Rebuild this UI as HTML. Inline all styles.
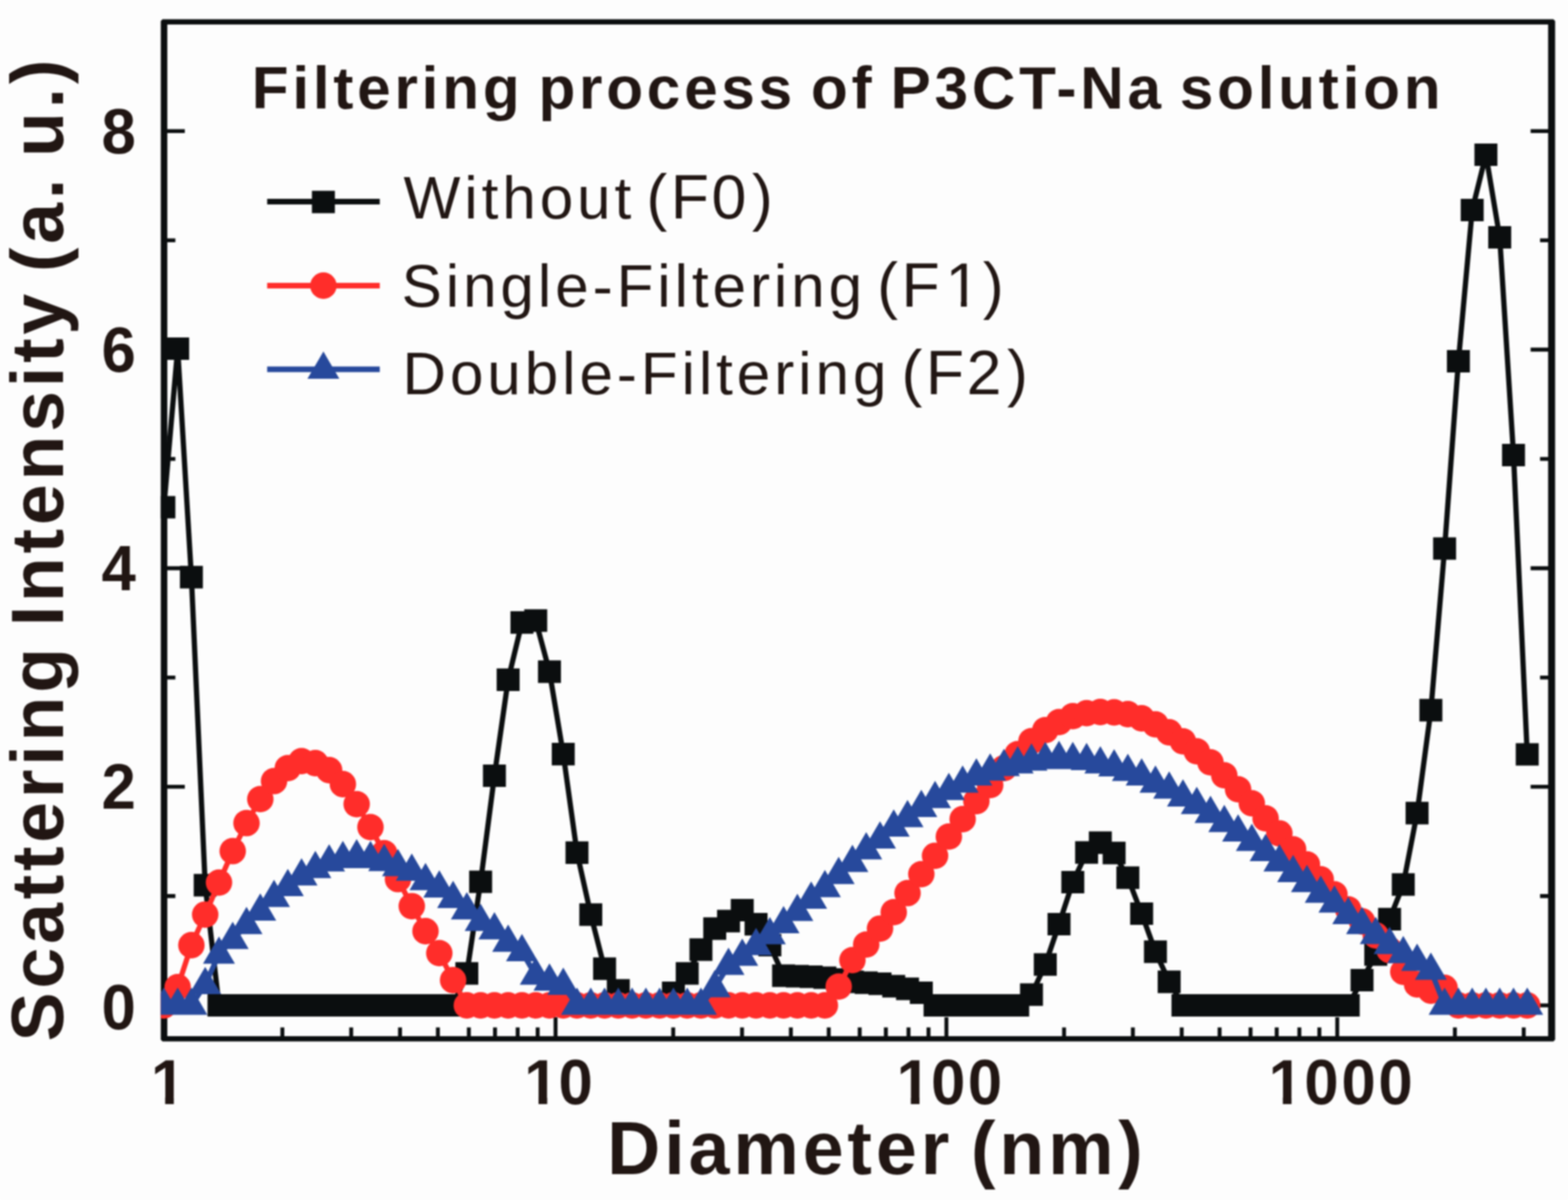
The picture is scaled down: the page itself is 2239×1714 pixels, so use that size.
<!DOCTYPE html>
<html lang="en"><head><meta charset="utf-8"><title>Filtering process of P3CT-Na solution</title>
<style>
html,body{margin:0;padding:0;background:#fdfdfd;}
body{width:2239px;height:1714px;overflow:hidden;}
svg{display:block;filter:blur(0.9px);}
text{font-family:"Liberation Sans",Arial,Helvetica,sans-serif;fill:#211613;}
.b{font-weight:bold;}
</style></head><body>
<svg width="2239" height="1714" viewBox="0 0 2239 1714">
<rect width="2239" height="1714" fill="#fdfdfd"/>
<defs><clipPath id="plotclip"><rect x="229.6" y="27.4" width="1991" height="1460.2"/></clipPath></defs>
<g id="axes">
<path fill="#0b0e0f" fill-rule="evenodd" d="M232.1 27.4H2218.1L2220.6 29.9V1485.1L2218.1 1487.6H232.1L229.6 1485.1V29.9Z M238.9 35H2210.6V1480H238.9Z"/>
<path stroke="#0b0e0f" fill="none" stroke-width="5.6" d="M237.9 1436h26M2211.6 1436h-26M237.9 1279.9h12.5M2211.6 1279.9h-12.5M237.9 1123.8h26M2211.6 1123.8h-26M237.9 967.7h12.5M2211.6 967.7h-12.5M237.9 811.6h26M2211.6 811.6h-26M237.9 655.5h12.5M2211.6 655.5h-12.5M237.9 499.4h26M2211.6 499.4h-26M237.9 343.3h12.5M2211.6 343.3h-12.5M237.9 187.2h26M2211.6 187.2h-26M403.205 1481v-13.5M501.481 1481v-13.5M571.21 1481v-13.5M625.295 1481v-13.5M669.486 1481v-13.5M706.849 1481v-13.5M739.215 1481v-13.5M767.763 1481v-13.5M793.3 1481v-28M961.305 1481v-13.5M1059.58 1481v-13.5M1129.31 1481v-13.5M1183.4 1481v-13.5M1227.59 1481v-13.5M1264.95 1481v-13.5M1297.31 1481v-13.5M1325.86 1481v-13.5M1351.4 1481v-28M1519.4 1481v-13.5M1617.68 1481v-13.5M1687.41 1481v-13.5M1741.5 1481v-13.5M1785.69 1481v-13.5M1823.05 1481v-13.5M1855.41 1481v-13.5M1883.96 1481v-13.5M1909.5 1481v-28M2077.5 1481v-13.5M2175.78 1481v-13.5"/>
</g>
<g id="plot" clip-path="url(#plotclip)">
<g id="series-f0"><polyline fill="none" stroke="#0b0e0f" stroke-width="7.5" stroke-linejoin="round" points="234,724.5 253.7,498 273.3,824.3 293,1264.3 312.7,1436 332.3,1436 352,1436 371.7,1436 391.3,1436 411,1436 430.6,1436 450.3,1436 470,1436 489.6,1436 509.3,1436 529,1436 548.6,1436 568.3,1436 588,1436 607.6,1436 627.3,1436 647,1436 666.6,1390.4 686.3,1259.5 706,1108 725.6,970.9 745.3,889.1 765,886.3 784.6,959.4 804.3,1077.1 823.9,1217.8 843.6,1306.3 863.3,1383.7 882.9,1414.5 902.6,1436 922.3,1436 941.9,1436 961.6,1418 981.3,1390.3 1000.9,1356.4 1020.6,1326.3 1040.3,1315.6 1059.9,1300 1079.6,1320.1 1099.3,1350 1118.9,1393.6 1138.6,1394.3 1158.3,1395.2 1177.9,1396.5 1197.6,1399 1217.2,1402.3 1236.9,1403.7 1256.6,1405.1 1276.2,1408.6 1295.9,1412.3 1315.6,1418 1335.2,1436 1354.9,1436 1374.6,1436 1394.2,1436 1413.9,1436 1433.6,1436 1453.2,1436 1472.9,1420.7 1492.6,1377.7 1512.2,1320 1531.9,1260 1551.6,1217.7 1571.2,1203.7 1590.9,1218.3 1610.5,1253.7 1630.2,1305 1649.9,1359.4 1669.5,1402.3 1689.2,1436 1708.9,1436 1728.5,1436 1748.2,1436 1767.9,1436 1787.5,1436 1807.2,1436 1826.9,1436 1846.5,1436 1866.2,1436 1885.9,1436 1905.5,1436 1925.2,1436 1944.9,1400 1964.5,1363.4 1984.2,1312.9 2003.8,1263.4 2023.5,1161.4 2043.2,1014.4 2062.8,783.5 2082.5,516 2102.2,300 2121.8,221 2141.5,339 2161.2,650 2180.8,1077.5"/><path fill="#0b0e0f" d="M217.6 708.4h32.8v32.2h-32.8zM237.3 481.9h32.8v32.2h-32.8zM256.9 808.2h32.8v32.2h-32.8zM276.6 1248.2h32.8v32.2h-32.8zM296.3 1419.9h32.8v32.2h-32.8zM315.9 1419.9h32.8v32.2h-32.8zM335.6 1419.9h32.8v32.2h-32.8zM355.3 1419.9h32.8v32.2h-32.8zM374.9 1419.9h32.8v32.2h-32.8zM394.6 1419.9h32.8v32.2h-32.8zM414.2 1419.9h32.8v32.2h-32.8zM433.9 1419.9h32.8v32.2h-32.8zM453.6 1419.9h32.8v32.2h-32.8zM473.2 1419.9h32.8v32.2h-32.8zM492.9 1419.9h32.8v32.2h-32.8zM512.6 1419.9h32.8v32.2h-32.8zM532.2 1419.9h32.8v32.2h-32.8zM551.9 1419.9h32.8v32.2h-32.8zM571.6 1419.9h32.8v32.2h-32.8zM591.2 1419.9h32.8v32.2h-32.8zM610.9 1419.9h32.8v32.2h-32.8zM630.6 1419.9h32.8v32.2h-32.8zM650.2 1374.3h32.8v32.2h-32.8zM669.9 1243.4h32.8v32.2h-32.8zM689.6 1091.9h32.8v32.2h-32.8zM709.2 954.8h32.8v32.2h-32.8zM728.9 873h32.8v32.2h-32.8zM748.6 870.2h32.8v32.2h-32.8zM768.2 943.3h32.8v32.2h-32.8zM787.9 1061h32.8v32.2h-32.8zM807.5 1201.7h32.8v32.2h-32.8zM827.2 1290.2h32.8v32.2h-32.8zM846.9 1367.6h32.8v32.2h-32.8zM866.5 1398.4h32.8v32.2h-32.8zM886.2 1419.9h32.8v32.2h-32.8zM905.9 1419.9h32.8v32.2h-32.8zM925.5 1419.9h32.8v32.2h-32.8zM945.2 1401.9h32.8v32.2h-32.8zM964.9 1374.2h32.8v32.2h-32.8zM984.5 1340.3h32.8v32.2h-32.8zM1004.2 1310.2h32.8v32.2h-32.8zM1023.9 1299.5h32.8v32.2h-32.8zM1043.5 1283.9h32.8v32.2h-32.8zM1063.2 1304h32.8v32.2h-32.8zM1082.9 1333.9h32.8v32.2h-32.8zM1102.5 1377.5h32.8v32.2h-32.8zM1122.2 1378.2h32.8v32.2h-32.8zM1141.9 1379.1h32.8v32.2h-32.8zM1161.5 1380.4h32.8v32.2h-32.8zM1181.2 1382.9h32.8v32.2h-32.8zM1200.8 1386.2h32.8v32.2h-32.8zM1220.5 1387.6h32.8v32.2h-32.8zM1240.2 1389h32.8v32.2h-32.8zM1259.8 1392.5h32.8v32.2h-32.8zM1279.5 1396.2h32.8v32.2h-32.8zM1299.2 1401.9h32.8v32.2h-32.8zM1318.8 1419.9h32.8v32.2h-32.8zM1338.5 1419.9h32.8v32.2h-32.8zM1358.2 1419.9h32.8v32.2h-32.8zM1377.8 1419.9h32.8v32.2h-32.8zM1397.5 1419.9h32.8v32.2h-32.8zM1417.2 1419.9h32.8v32.2h-32.8zM1436.8 1419.9h32.8v32.2h-32.8zM1456.5 1404.6h32.8v32.2h-32.8zM1476.2 1361.6h32.8v32.2h-32.8zM1495.8 1303.9h32.8v32.2h-32.8zM1515.5 1243.9h32.8v32.2h-32.8zM1535.2 1201.6h32.8v32.2h-32.8zM1554.8 1187.6h32.8v32.2h-32.8zM1574.5 1202.2h32.8v32.2h-32.8zM1594.1 1237.6h32.8v32.2h-32.8zM1613.8 1288.9h32.8v32.2h-32.8zM1633.5 1343.3h32.8v32.2h-32.8zM1653.1 1386.2h32.8v32.2h-32.8zM1672.8 1419.9h32.8v32.2h-32.8zM1692.5 1419.9h32.8v32.2h-32.8zM1712.1 1419.9h32.8v32.2h-32.8zM1731.8 1419.9h32.8v32.2h-32.8zM1751.5 1419.9h32.8v32.2h-32.8zM1771.1 1419.9h32.8v32.2h-32.8zM1790.8 1419.9h32.8v32.2h-32.8zM1810.5 1419.9h32.8v32.2h-32.8zM1830.1 1419.9h32.8v32.2h-32.8zM1849.8 1419.9h32.8v32.2h-32.8zM1869.5 1419.9h32.8v32.2h-32.8zM1889.1 1419.9h32.8v32.2h-32.8zM1908.8 1419.9h32.8v32.2h-32.8zM1928.5 1383.9h32.8v32.2h-32.8zM1948.1 1347.3h32.8v32.2h-32.8zM1967.8 1296.8h32.8v32.2h-32.8zM1987.4 1247.3h32.8v32.2h-32.8zM2007.1 1145.3h32.8v32.2h-32.8zM2026.8 998.3h32.8v32.2h-32.8zM2046.4 767.4h32.8v32.2h-32.8zM2066.1 499.9h32.8v32.2h-32.8zM2085.8 283.9h32.8v32.2h-32.8zM2105.4 204.9h32.8v32.2h-32.8zM2125.1 322.9h32.8v32.2h-32.8zM2144.8 633.9h32.8v32.2h-32.8zM2164.4 1061.4h32.8v32.2h-32.8z"/></g>
<g id="series-f1"><polyline fill="none" stroke="#ff2d2a" stroke-width="7.5" stroke-linejoin="round" points="234,1436 253.7,1410 273.3,1350 293,1306.3 312.7,1260.6 332.3,1215.7 352,1175.7 371.7,1141.4 391.3,1115.7 411,1097.1 430.6,1087.1 450.3,1090 470,1100 489.6,1120 509.3,1148.6 529,1181.4 548.6,1218.6 568.3,1255.7 588,1294.3 607.6,1330 627.3,1361.4 647,1400 666.6,1436 686.3,1436 706,1436 725.6,1436 745.3,1436 765,1436 784.6,1436 804.3,1436 823.9,1436 843.6,1436 863.3,1436 882.9,1436 902.6,1436 922.3,1436 941.9,1436 961.6,1436 981.3,1436 1000.9,1436 1020.6,1436 1040.3,1436 1059.9,1436 1079.6,1436 1099.3,1436 1118.9,1436 1138.6,1436 1158.3,1436 1177.9,1436 1197.6,1409.1 1217.2,1371.4 1236.9,1349.1 1256.6,1326.3 1276.2,1302.9 1295.9,1275.7 1315.6,1248.6 1335.2,1222.3 1354.9,1194.9 1374.6,1170 1394.2,1144.3 1413.9,1121.4 1433.6,1097.1 1453.2,1077.1 1472.9,1058.6 1492.6,1042.9 1512.2,1031.4 1531.9,1022.9 1551.6,1018.6 1571.2,1017 1590.9,1017.5 1610.5,1020 1630.2,1026 1649.9,1034.6 1669.5,1046 1689.2,1058.9 1708.9,1073.1 1728.5,1088.9 1748.2,1107.4 1767.9,1127.4 1787.5,1147.4 1807.2,1168.9 1826.9,1190.3 1846.5,1213.1 1866.2,1234.6 1885.9,1256 1905.5,1277.4 1925.2,1298.9 1944.9,1316 1964.5,1336 1984.2,1357 2003.8,1388 2023.5,1406 2043.2,1415 2062.8,1411 2082.5,1436 2102.2,1436 2121.8,1436 2141.5,1436 2161.2,1436 2180.8,1436"/><g fill="#ff2d2a"><circle cx="234" cy="1436" r="18.9"/><circle cx="253.7" cy="1410" r="18.9"/><circle cx="273.3" cy="1350" r="18.9"/><circle cx="293" cy="1306.3" r="18.9"/><circle cx="312.7" cy="1260.6" r="18.9"/><circle cx="332.3" cy="1215.7" r="18.9"/><circle cx="352" cy="1175.7" r="18.9"/><circle cx="371.7" cy="1141.4" r="18.9"/><circle cx="391.3" cy="1115.7" r="18.9"/><circle cx="411" cy="1097.1" r="18.9"/><circle cx="430.6" cy="1087.1" r="18.9"/><circle cx="450.3" cy="1090" r="18.9"/><circle cx="470" cy="1100" r="18.9"/><circle cx="489.6" cy="1120" r="18.9"/><circle cx="509.3" cy="1148.6" r="18.9"/><circle cx="529" cy="1181.4" r="18.9"/><circle cx="548.6" cy="1218.6" r="18.9"/><circle cx="568.3" cy="1255.7" r="18.9"/><circle cx="588" cy="1294.3" r="18.9"/><circle cx="607.6" cy="1330" r="18.9"/><circle cx="627.3" cy="1361.4" r="18.9"/><circle cx="647" cy="1400" r="18.9"/><circle cx="666.6" cy="1436" r="18.9"/><circle cx="686.3" cy="1436" r="18.9"/><circle cx="706" cy="1436" r="18.9"/><circle cx="725.6" cy="1436" r="18.9"/><circle cx="745.3" cy="1436" r="18.9"/><circle cx="765" cy="1436" r="18.9"/><circle cx="784.6" cy="1436" r="18.9"/><circle cx="804.3" cy="1436" r="18.9"/><circle cx="823.9" cy="1436" r="18.9"/><circle cx="843.6" cy="1436" r="18.9"/><circle cx="863.3" cy="1436" r="18.9"/><circle cx="882.9" cy="1436" r="18.9"/><circle cx="902.6" cy="1436" r="18.9"/><circle cx="922.3" cy="1436" r="18.9"/><circle cx="941.9" cy="1436" r="18.9"/><circle cx="961.6" cy="1436" r="18.9"/><circle cx="981.3" cy="1436" r="18.9"/><circle cx="1000.9" cy="1436" r="18.9"/><circle cx="1020.6" cy="1436" r="18.9"/><circle cx="1040.3" cy="1436" r="18.9"/><circle cx="1059.9" cy="1436" r="18.9"/><circle cx="1079.6" cy="1436" r="18.9"/><circle cx="1099.3" cy="1436" r="18.9"/><circle cx="1118.9" cy="1436" r="18.9"/><circle cx="1138.6" cy="1436" r="18.9"/><circle cx="1158.3" cy="1436" r="18.9"/><circle cx="1177.9" cy="1436" r="18.9"/><circle cx="1197.6" cy="1409.1" r="18.9"/><circle cx="1217.2" cy="1371.4" r="18.9"/><circle cx="1236.9" cy="1349.1" r="18.9"/><circle cx="1256.6" cy="1326.3" r="18.9"/><circle cx="1276.2" cy="1302.9" r="18.9"/><circle cx="1295.9" cy="1275.7" r="18.9"/><circle cx="1315.6" cy="1248.6" r="18.9"/><circle cx="1335.2" cy="1222.3" r="18.9"/><circle cx="1354.9" cy="1194.9" r="18.9"/><circle cx="1374.6" cy="1170" r="18.9"/><circle cx="1394.2" cy="1144.3" r="18.9"/><circle cx="1413.9" cy="1121.4" r="18.9"/><circle cx="1433.6" cy="1097.1" r="18.9"/><circle cx="1453.2" cy="1077.1" r="18.9"/><circle cx="1472.9" cy="1058.6" r="18.9"/><circle cx="1492.6" cy="1042.9" r="18.9"/><circle cx="1512.2" cy="1031.4" r="18.9"/><circle cx="1531.9" cy="1022.9" r="18.9"/><circle cx="1551.6" cy="1018.6" r="18.9"/><circle cx="1571.2" cy="1017" r="18.9"/><circle cx="1590.9" cy="1017.5" r="18.9"/><circle cx="1610.5" cy="1020" r="18.9"/><circle cx="1630.2" cy="1026" r="18.9"/><circle cx="1649.9" cy="1034.6" r="18.9"/><circle cx="1669.5" cy="1046" r="18.9"/><circle cx="1689.2" cy="1058.9" r="18.9"/><circle cx="1708.9" cy="1073.1" r="18.9"/><circle cx="1728.5" cy="1088.9" r="18.9"/><circle cx="1748.2" cy="1107.4" r="18.9"/><circle cx="1767.9" cy="1127.4" r="18.9"/><circle cx="1787.5" cy="1147.4" r="18.9"/><circle cx="1807.2" cy="1168.9" r="18.9"/><circle cx="1826.9" cy="1190.3" r="18.9"/><circle cx="1846.5" cy="1213.1" r="18.9"/><circle cx="1866.2" cy="1234.6" r="18.9"/><circle cx="1885.9" cy="1256" r="18.9"/><circle cx="1905.5" cy="1277.4" r="18.9"/><circle cx="1925.2" cy="1298.9" r="18.9"/><circle cx="1944.9" cy="1316" r="18.9"/><circle cx="1964.5" cy="1336" r="18.9"/><circle cx="1984.2" cy="1357" r="18.9"/><circle cx="2003.8" cy="1388" r="18.9"/><circle cx="2023.5" cy="1406" r="18.9"/><circle cx="2043.2" cy="1415" r="18.9"/><circle cx="2062.8" cy="1411" r="18.9"/><circle cx="2082.5" cy="1436" r="18.9"/><circle cx="2102.2" cy="1436" r="18.9"/><circle cx="2121.8" cy="1436" r="18.9"/><circle cx="2141.5" cy="1436" r="18.9"/><circle cx="2161.2" cy="1436" r="18.9"/><circle cx="2180.8" cy="1436" r="18.9"/></g></g>
<g id="series-f2"><polyline fill="none" stroke="#27499c" stroke-width="7.5" stroke-linejoin="round" points="234,1436 253.7,1436 273.3,1436 293,1406.4 312.7,1363 332.3,1342.1 352,1320.7 371.7,1301.6 391.3,1282.1 411,1266.4 430.6,1251.3 450.3,1240.7 470,1231.3 489.6,1226.4 509.3,1224.1 529,1226.4 548.6,1230.7 568.3,1237.9 588,1244.4 607.6,1257.9 627.3,1268.4 647,1283.4 666.6,1299.8 686.3,1316.3 706,1328.2 725.6,1346 745.3,1359.5 765,1393 784.6,1401.6 804.3,1407.6 823.9,1436 843.6,1436 863.3,1436 882.9,1436 902.6,1436 922.3,1436 941.9,1436 961.6,1436 981.3,1436 1000.9,1436 1020.6,1411 1040.3,1379.1 1059.9,1366.1 1079.6,1350.7 1099.3,1335.3 1118.9,1319.6 1138.6,1302 1158.3,1284.4 1177.9,1267.9 1197.6,1249.3 1217.2,1232.1 1236.9,1214.1 1256.6,1198.4 1276.2,1181.6 1295.9,1167.9 1315.6,1153.6 1335.2,1140.7 1354.9,1129.3 1374.6,1118.7 1394.2,1108.4 1413.9,1101.6 1433.6,1095 1453.2,1091.3 1472.9,1087.3 1492.6,1085 1512.2,1083.6 1531.9,1085 1551.6,1086.4 1571.2,1091.3 1590.9,1095.5 1610.5,1102.1 1630.2,1108.4 1649.9,1118.7 1669.5,1127.3 1689.2,1138.4 1708.9,1149.3 1728.5,1162.1 1748.2,1175 1767.9,1188.4 1787.5,1202.1 1807.2,1216.4 1826.9,1231.3 1846.5,1246.4 1866.2,1260.7 1885.9,1275.9 1905.5,1290.1 1925.2,1306.4 1944.9,1320.7 1964.5,1335 1984.2,1349.3 2003.8,1362.3 2023.5,1373.2 2043.2,1386 2062.8,1436 2082.5,1436 2102.2,1436 2121.8,1436 2141.5,1436 2161.2,1436 2180.8,1436"/><path fill="#27499c" d="M234 1410.5l22.8 39h-45.6zM253.7 1410.5l22.8 39h-45.6zM273.3 1410.5l22.8 39h-45.6zM293 1380.9l22.8 39h-45.6zM312.7 1337.5l22.8 39h-45.6zM332.3 1316.6l22.8 39h-45.6zM352 1295.2l22.8 39h-45.6zM371.7 1276.1l22.8 39h-45.6zM391.3 1256.6l22.8 39h-45.6zM411 1240.9l22.8 39h-45.6zM430.6 1225.8l22.8 39h-45.6zM450.3 1215.2l22.8 39h-45.6zM470 1205.8l22.8 39h-45.6zM489.6 1200.9l22.8 39h-45.6zM509.3 1198.6l22.8 39h-45.6zM529 1200.9l22.8 39h-45.6zM548.6 1205.2l22.8 39h-45.6zM568.3 1212.4l22.8 39h-45.6zM588 1218.9l22.8 39h-45.6zM607.6 1232.4l22.8 39h-45.6zM627.3 1242.9l22.8 39h-45.6zM647 1257.9l22.8 39h-45.6zM666.6 1274.3l22.8 39h-45.6zM686.3 1290.8l22.8 39h-45.6zM706 1302.7l22.8 39h-45.6zM725.6 1320.5l22.8 39h-45.6zM745.3 1334l22.8 39h-45.6zM765 1367.5l22.8 39h-45.6zM784.6 1376.1l22.8 39h-45.6zM804.3 1382.1l22.8 39h-45.6zM823.9 1410.5l22.8 39h-45.6zM843.6 1410.5l22.8 39h-45.6zM863.3 1410.5l22.8 39h-45.6zM882.9 1410.5l22.8 39h-45.6zM902.6 1410.5l22.8 39h-45.6zM922.3 1410.5l22.8 39h-45.6zM941.9 1410.5l22.8 39h-45.6zM961.6 1410.5l22.8 39h-45.6zM981.3 1410.5l22.8 39h-45.6zM1000.9 1410.5l22.8 39h-45.6zM1020.6 1385.5l22.8 39h-45.6zM1040.3 1353.6l22.8 39h-45.6zM1059.9 1340.6l22.8 39h-45.6zM1079.6 1325.2l22.8 39h-45.6zM1099.3 1309.8l22.8 39h-45.6zM1118.9 1294.1l22.8 39h-45.6zM1138.6 1276.5l22.8 39h-45.6zM1158.3 1258.9l22.8 39h-45.6zM1177.9 1242.4l22.8 39h-45.6zM1197.6 1223.8l22.8 39h-45.6zM1217.2 1206.6l22.8 39h-45.6zM1236.9 1188.6l22.8 39h-45.6zM1256.6 1172.9l22.8 39h-45.6zM1276.2 1156.1l22.8 39h-45.6zM1295.9 1142.4l22.8 39h-45.6zM1315.6 1128.1l22.8 39h-45.6zM1335.2 1115.2l22.8 39h-45.6zM1354.9 1103.8l22.8 39h-45.6zM1374.6 1093.2l22.8 39h-45.6zM1394.2 1082.9l22.8 39h-45.6zM1413.9 1076.1l22.8 39h-45.6zM1433.6 1069.5l22.8 39h-45.6zM1453.2 1065.8l22.8 39h-45.6zM1472.9 1061.8l22.8 39h-45.6zM1492.6 1059.5l22.8 39h-45.6zM1512.2 1058.1l22.8 39h-45.6zM1531.9 1059.5l22.8 39h-45.6zM1551.6 1060.9l22.8 39h-45.6zM1571.2 1065.8l22.8 39h-45.6zM1590.9 1070l22.8 39h-45.6zM1610.5 1076.6l22.8 39h-45.6zM1630.2 1082.9l22.8 39h-45.6zM1649.9 1093.2l22.8 39h-45.6zM1669.5 1101.8l22.8 39h-45.6zM1689.2 1112.9l22.8 39h-45.6zM1708.9 1123.8l22.8 39h-45.6zM1728.5 1136.6l22.8 39h-45.6zM1748.2 1149.5l22.8 39h-45.6zM1767.9 1162.9l22.8 39h-45.6zM1787.5 1176.6l22.8 39h-45.6zM1807.2 1190.9l22.8 39h-45.6zM1826.9 1205.8l22.8 39h-45.6zM1846.5 1220.9l22.8 39h-45.6zM1866.2 1235.2l22.8 39h-45.6zM1885.9 1250.4l22.8 39h-45.6zM1905.5 1264.6l22.8 39h-45.6zM1925.2 1280.9l22.8 39h-45.6zM1944.9 1295.2l22.8 39h-45.6zM1964.5 1309.5l22.8 39h-45.6zM1984.2 1323.8l22.8 39h-45.6zM2003.8 1336.8l22.8 39h-45.6zM2023.5 1347.7l22.8 39h-45.6zM2043.2 1360.5l22.8 39h-45.6zM2062.8 1410.5l22.8 39h-45.6zM2082.5 1410.5l22.8 39h-45.6zM2102.2 1410.5l22.8 39h-45.6zM2121.8 1410.5l22.8 39h-45.6zM2141.5 1410.5l22.8 39h-45.6zM2161.2 1410.5l22.8 39h-45.6zM2180.8 1410.5l22.8 39h-45.6z"/></g>
</g>
<g id="legend">
<line x1="381.5" y1="288" x2="542.3" y2="288" stroke="#0b0e0f" stroke-width="8"/>
<line x1="381.5" y1="408" x2="542.3" y2="408" stroke="#ff2d2a" stroke-width="8"/>
<line x1="381.5" y1="527.4" x2="542.3" y2="527.4" stroke="#27499c" stroke-width="8"/>
<path fill="#0b0e0f" d="M445.4 272.4h32.8v32.2h-32.8z"/>
<g fill="#ff2d2a"><circle cx="461.8" cy="408" r="18.9"/></g>
<path fill="#27499c" d="M461.8 502.1l22.8 39h-45.6z"/>
</g>
<text id="title" class="b" transform="translate(359.5 154.8)" font-size="86" x="0 57.9 87.2 116.5 150.5 203.8 242.6 271.9 329.9 387.8 409.4 467.3 506.2 564.1 617.4 670.6 723.8 777 798.6 856.6 890.6 912.2 975 1028.2 1095.7 1148.9 1182.9 1250.4 1303.7 1325.2 1378.5 1436.4 1465.7 1523.6 1557.7 1587 1644.9">Filtering process of P3CT-Na solution</text>
<text id="leg0" transform="translate(576.3 312.4)" font-size="86" x="0 86.8 111.5 141 194.4 247.8 301.2 330.8 346.7 381.4 439.7 497.5">Without <tspan font-size="89.44">(F0)</tspan></text>
<text id="leg1" transform="translate(573.5 438.1)" font-size="86" x="0 63 87.7 141.1 194.5 219.2 272.7 306.9 365 389.7 414.4 443.9 497.4 531.6 556.3 609.7 663.2 679.1 713.8 776.4 829.9">Single-Filtering <tspan font-size="89.44">(F1)</tspan></text>
<text id="leg2" transform="translate(574.7 562.8)" font-size="86" x="0 67.7 121.1 174.6 228 252.7 306.1 340.4 398.5 423.2 447.9 477.4 530.8 565.1 589.8 643.2 696.6 712.6 747.3 805.5 863.3">Double-Filtering <tspan font-size="89.44">(F2)</tspan></text>
<text id="y8" class="b" transform="translate(145 219) scale(1 1.04)" font-size="88" x="0">8</text>
<text id="y6" class="b" transform="translate(145 531) scale(1 1.04)" font-size="88" x="0">6</text>
<text id="y4" class="b" transform="translate(145 843) scale(1 1.04)" font-size="88" x="0">4</text>
<text id="y2" class="b" transform="translate(145 1155) scale(1 1.04)" font-size="88" x="0">2</text>
<text id="y0" class="b" transform="translate(145 1469.5) scale(1 1.04)" font-size="88" x="0">0</text>
<text id="x1" class="b" transform="translate(215.4 1577) scale(1 1.04)" font-size="88" x="0">1</text>
<text id="x10" class="b" transform="translate(745 1577) scale(1 1.04)" font-size="88" x="3.6 52.5">10</text>
<text id="x100" class="b" transform="translate(1277 1577) scale(1 1.04)" font-size="88" x="3.2 52.5 105.1">100</text>
<text id="x1000" class="b" transform="translate(1809.5 1577) scale(1 1.04)" font-size="88" x="1.9 52.9 105.9 158.8">1000</text>
<text id="xlabel" class="b" transform="translate(867 1677) scale(1 1.02)" font-size="105" x="0 81.4 116.2 180.2 279.2 343.1 383.7 447.7 494.2 519.5 560.1 629.8 729.8">Diameter (nm)</text>
<text id="ylabel" class="b" transform="translate(89.5 1487.5) rotate(-90)" font-size="105" x="0 75.4 139.2 203 243.4 283.8 347.5 393.8 428.4 497.9 567.5 593 627.6 697.1 737.5 801.3 870.8 934.6 969.2 1009.6 1073.4 1098.9 1139.3 1203.1 1237.7 1263.2 1332.8 1367.4">Scattering Intensity (a. u.)</text>
<g id="glyph-trim" fill="#fdfdfd"><rect x="219.4" y="1566.6" width="16.4" height="12"/><rect x="248.2" y="1566.6" width="15" height="12"/><rect x="752.6" y="1566.6" width="16.4" height="12"/><rect x="781.4" y="1566.6" width="15" height="12"/><rect x="1284.2" y="1566.6" width="16.4" height="12"/><rect x="1313" y="1566.6" width="15" height="12"/><rect x="1815.4" y="1566.6" width="16.4" height="12"/><rect x="1844.2" y="1566.6" width="15" height="12"/><rect x="1354.8" y="429.6" width="17.3" height="10"/><rect x="1380.5" y="429.6" width="16" height="10"/></g>
</svg>
</body></html>
